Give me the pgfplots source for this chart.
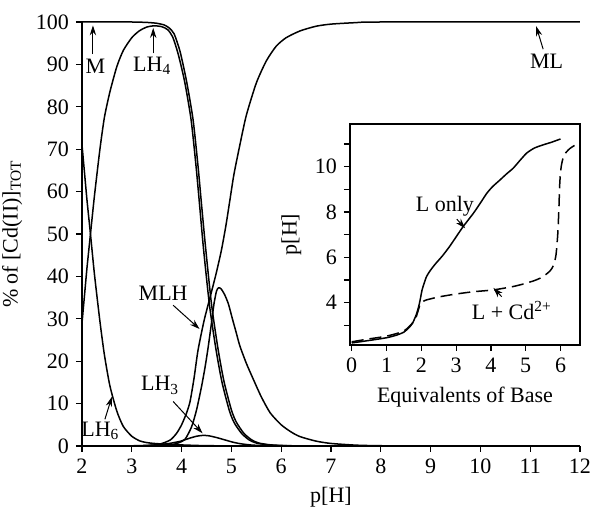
\documentclass[border=0pt]{standalone}
\usepackage{fontspec}
\setmainfont{Liberation Serif}
\usepackage{pgfplots}
\pgfplotsset{compat=1.18}
\usetikzlibrary{arrows.meta}

\tikzset{
  lbl/.style={font=\fontsize{11}{13}\selectfont, inner sep=0pt},
  pt/.style={-{Stealth[length=5pt,width=3.2pt]}, line width=0.5pt},
}
\pgfplotsset{
  cycle list={{black, solid}},
  every axis plot/.append style={line width=0.75pt, black, no markers, smooth, tension=0.4},
  /pgf/number format/assume math mode=true,
  ticklabel style={font=\fontsize{11}{13}\selectfont},
  label style={font=\fontsize{11}{13}\selectfont},
}

\begin{document}
\begin{tikzpicture}
% main species distribution
\begin{axis}[
  name=main, at={(0,0)}, anchor=south west,
  scale only axis, width=249pt, height=212pt,
  xmin=2, xmax=12, ymin=0, ymax=100,
  axis lines=left, axis line style={-, line width=0.6pt},
  tick align=outside, major tick length=3pt,
  tick style={line width=0.6pt, black},
  xtick={2,...,12}, ytick={0,10,...,100},
  xlabel={p[H]}, ylabel={\% of [Cd(II)]\textsubscript{TOT}},
  clip=false,
]
% M
\addplot coordinates {(2,100) (2.5,100) (3.0,100) (3.3,99.9) (3.5,99.7) (3.65,99.3) (3.75,98.6) (3.85,97.2) (3.97,93) (4.1,86) (4.23,77) (4.33,66) (4.4,57) (4.48,47) (4.6,33.5) (4.73,23) (4.85,15.3) (5.0,8.5) (5.1,5.6) (5.25,3) (5.4,1.5) (5.55,0.7) (5.8,0.25) (6.2,0.06) (7,0) (12,0)};
% LH4
\addplot coordinates {(2,29) (2.05,35.5) (2.1,42) (2.17,50) (2.25,59) (2.36,70) (2.45,77.5) (2.56,83.5) (2.7,89.5) (2.83,93.3) (3.0,96.3) (3.15,97.9) (3.3,98.8) (3.45,99.1) (3.6,98.9) (3.72,98.2) (3.82,96.5) (3.93,92.5) (4.06,86) (4.19,77) (4.29,66) (4.36,57) (4.44,46.5) (4.56,33.2) (4.69,22.8) (4.81,15.1) (4.96,8.3) (5.06,5.4) (5.21,2.9) (5.36,1.4) (5.5,0.7) (5.75,0.25) (6.1,0.06) (7,0) (12,0)};
% LH6
\addplot coordinates {(2,71) (2.05,64.5) (2.1,58) (2.17,50) (2.25,40.5) (2.36,29.4) (2.45,21.5) (2.56,14.2) (2.7,8.2) (2.83,4.6) (3.0,2.3) (3.16,1.2) (3.3,0.8) (3.45,0.6) (3.7,0.4) (4.0,0.25) (4.4,0.1) (5,0.02) (6,0) (12,0)};
% LH3
\addplot coordinates {(2,0) (3.0,0.05) (3.4,0.2) (3.7,0.5) (3.97,1.1) (4.15,1.8) (4.3,2.3) (4.43,2.5) (4.55,2.4) (4.7,2.0) (4.85,1.5) (5.03,0.9) (5.2,0.5) (5.43,0.2) (5.7,0.08) (6,0.03) (7,0) (12,0)};
% ML
\addplot coordinates {(2,0) (3.0,0) (3.3,0.1) (3.55,0.4) (3.77,1.4) (3.9,3) (4.0,5) (4.1,7.8) (4.17,10.5) (4.25,16) (4.33,22.6) (4.45,29.5) (4.57,35) (4.69,40.5) (4.8,46.2) (4.89,52) (4.97,58) (5.05,64) (5.17,71) (5.3,78) (5.5,85.6) (5.7,90.8) (5.9,94.3) (6.1,96.3) (6.38,97.9) (6.7,99) (7.0,99.5) (7.5,99.85) (8,100) (12,100)};
% MLH
\addplot coordinates {(2,0) (3.5,0) (3.8,0.3) (3.95,0.8) (4.07,1.6) (4.2,4.5) (4.3,8.5) (4.4,14) (4.47,18.5) (4.53,23) (4.6,29) (4.65,33.5) (4.7,36.5) (4.74,37.3) (4.79,37.1) (4.86,35.8) (4.94,33.5) (5.02,30) (5.1,26.6) (5.17,23.6) (5.3,19.5) (5.43,16) (5.6,11.6) (5.78,7.8) (6.0,5) (6.2,3.3) (6.38,2.2) (6.7,1.15) (7.0,0.6) (7.5,0.2) (8,0.06) (9,0) (12,0)};

\node[lbl] at (axis cs:2.27,89.6) {M};
\draw[pt] (axis cs:2.22,92.4) -- (axis cs:2.22,99.2);
\node[lbl] at (axis cs:3.41,89.6) {LH\textsubscript{4}};
\draw[pt] (axis cs:3.43,92.6) -- (axis cs:3.43,98.6);
\node[lbl] at (axis cs:11.33,90.8) {ML};
\draw[pt] (axis cs:11.26,93.6) -- (axis cs:11.12,99.0);
\node[lbl] at (axis cs:3.63,36) {MLH};
\draw[pt] (axis cs:3.83,33.2) -- (axis cs:4.36,27.6);
\node[lbl] at (axis cs:3.57,14.3) {LH\textsubscript{3}};
\draw[pt] (axis cs:3.83,10.5) -- (axis cs:4.42,3.0);
\node[lbl] at (axis cs:2.37,3.6) {LH\textsubscript{6}};
\draw[pt] (axis cs:2.46,6.3) -- (axis cs:2.60,11.6);
\end{axis}

% inset titration curves
\begin{axis}[
  at={(134pt,50.5pt)}, anchor=south west,
  scale only axis, width=115pt, height=110.5pt,
  xmin=-0.05, xmax=6.56, ymin=2.13, ymax=11.88,
  axis line style={line width=0.6pt},
  tick align=outside, major tick length=3pt, minor tick length=3pt,
  tick style={line width=0.6pt, black},
  xtick pos=bottom, ytick pos=left,
  xtick={0,...,6}, ytick={4,6,8,10}, minor ytick={3,5,7,9,11},
  xlabel={Equivalents of Base}, ylabel={p[H]},
  clip=false,
]
% L only
\addplot coordinates {(0,2.22) (0.5,2.33) (1.0,2.45) (1.3,2.57) (1.5,2.7) (1.65,2.9) (1.75,3.1) (1.85,3.45) (1.92,3.8) (1.97,4.15) (2.02,4.55) (2.08,4.85) (2.15,5.15) (2.25,5.4) (2.4,5.7) (2.6,6.05) (2.8,6.45) (3.0,6.9) (3.2,7.35) (3.5,7.95) (3.7,8.4) (3.88,8.82) (4.05,9.12) (4.26,9.41) (4.45,9.68) (4.64,9.93) (4.85,10.3) (5.03,10.6) (5.25,10.82) (5.5,10.96) (5.75,11.08) (6.0,11.22)};
% L + Cd
\addplot[dash pattern=on 6pt off 3pt] coordinates {(0,2.27) (0.5,2.4) (1.0,2.52) (1.5,2.75) (1.8,3.2) (1.9,3.6) (1.97,3.95) (2.05,4.05) (2.15,4.12) (2.5,4.25) (3.0,4.38) (3.5,4.48) (4.07,4.56) (4.64,4.71) (5.0,4.85) (5.3,5.0) (5.5,5.15) (5.7,5.4) (5.8,5.65) (5.87,6.1) (5.92,7.0) (5.95,8.0) (5.98,9.3) (6.02,10.0) (6.1,10.5) (6.27,10.8) (6.51,11.03)};

\node[lbl] at (axis cs:2.68,8.23) {L only};
\draw[pt] (axis cs:3.02,7.68) -- (axis cs:3.26,7.28);
\node[lbl] at (axis cs:4.6,3.66) {L + Cd\textsuperscript{2+}};
\draw[pt] (axis cs:4.31,4.26) -- (axis cs:4.07,4.65);
\end{axis}

\pgfresetboundingbox
\path[use as bounding box] (-41pt,-31pt) rectangle (254.5pt,223pt);
\end{tikzpicture}
\end{document}
